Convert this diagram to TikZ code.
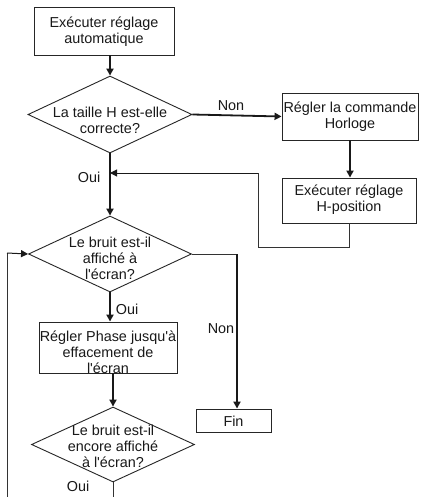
\documentclass[tikz,border=0pt]{standalone}
\usepackage{fontspec}
\setmainfont{Liberation Sans}
\usetikzlibrary{shapes.geometric,arrows.meta}
\tikzset{
  txt/.style={font=\fontsize{14.4}{16}\selectfont, align=center, inner sep=0pt, text=black!90},
  box/.style={draw=black!85, line width=0.9pt, rectangle, inner sep=0pt},
  dia/.style={draw=black!85, line width=0.9pt, diamond, inner sep=0pt},
  flow/.style={line width=1.8pt, draw=black!90, -{Triangle[length=7pt,width=7pt]}},
  thinflow/.style={line width=1pt, draw=black!90, -{Triangle[length=7pt,width=7pt]}},
  thinline/.style={line width=1pt, draw=black!80},
  lbl/.style={font=\fontsize{14.4}{16}\selectfont, inner sep=0pt, text=black!90}
}
\begin{document}
\begin{tikzpicture}[x=1pt,y=-1pt]
\useasboundingbox (0,0) rectangle (420,497);
\clip (0,0) rectangle (420,497);
\fill[white] (0,0) rectangle (420,497);
% boxes
\node[box, minimum width=140pt, minimum height=48pt] (b1) at (104,31) {};
\node[txt] (t1) at (104,32) {Exécuter réglage\\automatique};
\node[box, minimum width=136pt, minimum height=47pt] (b2) at (350,116.5) {};
\node[txt] (t2) at (350,117) {Régler la commande\\Horloge};
\node[box, minimum width=134pt, minimum height=45pt] (b3) at (349,200.5) {};
\node[txt] (t3) at (349,200) {Exécuter réglage\\H-position};
\node[box, minimum width=138pt, minimum height=51pt] (b4) at (108,347.5) {};
\node[txt] (t4) at (108,352) {Régler Phase jusqu\textquotesingle à\\effacement de\\l\textquotesingle écran};
\node[box, minimum width=75pt, minimum height=23pt] (fin) at (233.5,420.5) {};
\node[txt] (t5) at (233.5,421) {Fin};
% diamonds
\node[dia, minimum width=164pt, minimum height=77pt] (d1) at (110,114.5) {};
\node[txt] (td1) at (110,120) {La taille H est-elle\\correcte?};
\node[dia, minimum width=163pt, minimum height=76pt] (d2) at (110,254) {};
\node[txt] (td2) at (110,258) {Le bruit est-il\\affiché à\\l\textquotesingle écran?};
\node[dia, minimum width=163pt, minimum height=75pt] (d3) at (113,444.5) {};
\node[txt] (td3) at (113,446) {Le bruit est-il\\encore affiché\\à l\textquotesingle écran?};
% free-end coordinates
\coordinate (r1) at (349,247);
\coordinate (r2) at (258,247);
\coordinate (r3) at (258,173);
\coordinate (j1) at (110,173);
\coordinate (n1) at (237,254);
\coordinate (l1) at (7,515);
\coordinate (l2) at (7,253);
% connectors
\draw[flow] (d1.north |- b1.south) -- (d1.north);
\draw[flow] (d1.east) -- (b2.west);
\draw[flow] (b2.south) -- (b2.south |- b3.north);
\draw[thinline] (b3.south) -- (r1) -- (r2) -- (r3);
\draw[thinflow] (r3) -- (j1);
\draw[flow] (d1.south) -- (d2.north);
\draw[flow] (d2.south) -- (d2.south |- b4.north);
\draw[thinline] (d2.east) -- (n1);
\draw[flow] (n1) -- (n1 |- fin.north);
\draw[flow] (d3.north |- b4.south) -- (d3.north);
\draw[thinline] (d3.south) -- (d3.south |- l1) -- (l1) -- (l2);
\draw[thinflow] (l2) -- (d2.west);
% labels
\node[lbl] (nonA) at (231,106) {Non};
\node[lbl] (ouiA) at (89,177) {Oui};
\node[lbl] (ouiB) at (127,309) {Oui};
\node[lbl] (nonB) at (221,329) {Non};
\node[lbl] (ouiC) at (78,486) {Oui};
\end{tikzpicture}
\end{document}
